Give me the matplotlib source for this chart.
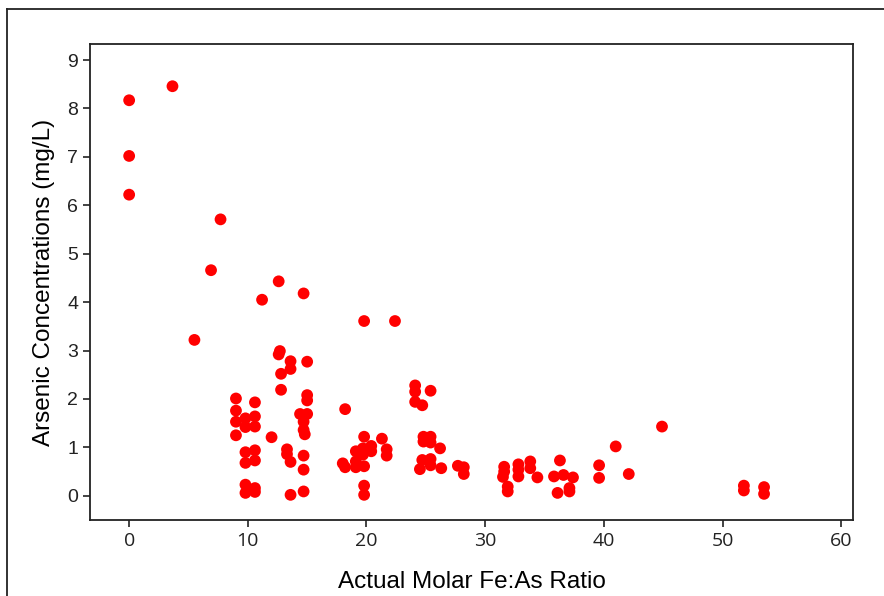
import matplotlib
matplotlib.use("Agg")
import matplotlib.pyplot as plt
from matplotlib.lines import Line2D

# Fe:As molar ratio vs arsenic concentration (mg/L)
ratio = [0.0, 0.0, 0.0, 3.65, 7.7, 6.9, 5.5,
         12.6, 11.2, 14.7, 12.7, 12.6, 13.6, 13.6, 15.0, 12.8, 12.8,
         9.0, 10.6, 15.0, 15.0, 9.0, 9.0, 9.8, 9.8, 10.6, 10.6,
         14.4, 15.0, 14.7, 14.7, 14.8, 9.0, 12.0,
         13.3, 13.3, 13.6, 14.7, 14.7, 9.8, 10.6, 9.8, 10.6,
         9.8, 10.6, 9.8, 10.6, 13.6, 14.7,
         19.8, 22.4, 24.1, 24.1, 25.4, 24.1, 24.7, 18.2,
         19.8, 21.3, 19.1, 19.7, 20.4, 20.4, 19.7, 21.7, 21.7,
         18.0, 18.2, 19.1, 19.1, 19.8, 19.8, 19.8,
         24.8, 25.4, 24.8, 25.4, 25.1, 26.2,
         24.7, 25.4, 25.4, 24.5, 26.3, 27.7, 28.2, 28.2,
         31.6, 31.6, 31.5, 31.9, 31.9, 32.8, 32.8, 32.8,
         33.8, 33.8, 34.4, 36.3, 35.8, 36.6, 37.4, 36.1, 37.1, 37.1,
         39.6, 39.6, 41.0, 42.1, 44.9, 51.8, 51.8, 53.5, 53.5]
arsenic = [8.17, 7.02, 6.22, 8.46, 5.71, 4.66, 3.22,
           4.43, 4.05, 4.18, 2.99, 2.92, 2.78, 2.62, 2.77, 2.52, 2.19,
           2.01, 1.93, 2.08, 1.97, 1.76, 1.53, 1.60, 1.42, 1.64, 1.43,
           1.69, 1.69, 1.53, 1.36, 1.27, 1.25, 1.21,
           0.96, 0.86, 0.70, 0.83, 0.54, 0.90, 0.94, 0.68, 0.73,
           0.23, 0.16, 0.06, 0.08, 0.02, 0.09,
           3.61, 3.61, 2.28, 2.15, 2.17, 1.94, 1.87, 1.79,
           1.22, 1.18, 0.92, 0.98, 1.03, 0.92, 0.85, 0.96, 0.83,
           0.67, 0.59, 0.71, 0.59, 0.61, 0.21, 0.02,
           1.22, 1.22, 1.12, 1.10, 1.15, 0.98,
           0.74, 0.76, 0.63, 0.55, 0.57, 0.62, 0.59, 0.45,
           0.60, 0.50, 0.39, 0.19, 0.09, 0.65, 0.54, 0.40,
           0.71, 0.57, 0.38, 0.73, 0.40, 0.43, 0.38, 0.06, 0.16, 0.09,
           0.63, 0.37, 1.02, 0.45, 1.43, 0.21, 0.11, 0.18, 0.04]

fig = plt.figure(figsize=(8.84, 5.96), dpi=100)
ax = fig.add_axes([0.1018, 0.1275, 0.8632, 0.7985])

ax.scatter(ratio, arsenic, s=72, color="#ff0000", edgecolors="none", zorder=3)

ax.set_xlim(-3.3, 61.0)
ax.set_ylim(-0.5, 9.33)
ax.set_xticks(range(0, 61, 10))
ax.set_yticks(range(0, 10))

for sp in ax.spines.values():
    sp.set_linewidth(1.3)
    sp.set_color("#222222")
ax.tick_params(direction="out", length=5, width=1.2, colors="#222222")
for lbl in ax.get_xticklabels():
    lbl.set_fontfamily("Open Sans")
    lbl.set_fontsize(14)
for lbl in ax.get_yticklabels():
    lbl.set_fontfamily("Liberation Sans")
    lbl.set_fontsize(14)

ax.set_xlabel("Actual Molar Fe:As Ratio", fontfamily="Liberation Sans",
              fontsize=17.5, labelpad=15)
ax.set_ylabel("Arsenic Concentrations (mg/L)", fontfamily="Liberation Sans",
              fontsize=17.5, labelpad=9)

# outer frame lines (top and left edge of the picture border)
fig.add_artist(Line2D([7 / 884, 7 / 884], [0, 1 - 9 / 596], color="#222222", lw=1.3))
fig.add_artist(Line2D([7 / 884, 1], [1 - 9 / 596, 1 - 9 / 596], color="#222222", lw=1.3))

fig.savefig("out.png", dpi=100)
